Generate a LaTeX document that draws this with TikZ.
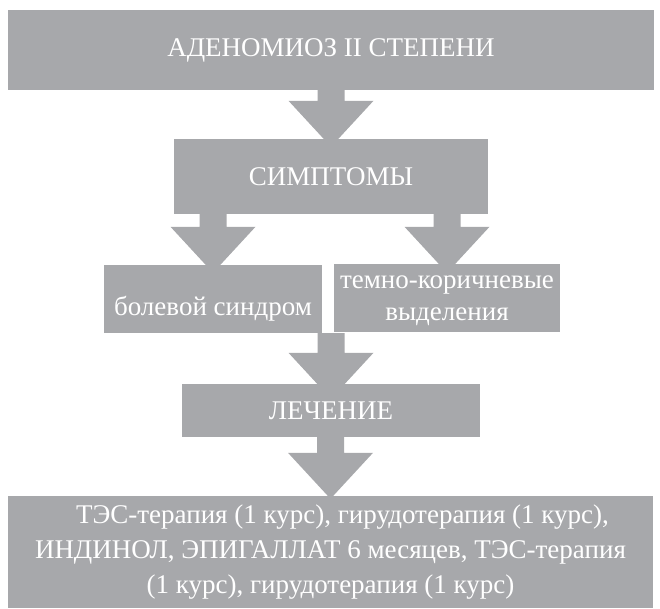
\documentclass[tikz,border=0pt]{standalone}
\usepackage{fontspec}
\setmainfont{Liberation Serif}
\usepackage{tikz}
\usetikzlibrary{calc,backgrounds}
\definecolor{boxgray}{HTML}{A7A8AB}

% wide block arrow: from #1 down to #2, head starts #3 above #2
\newcommand{\fatdown}[3]{%
  \fill[boxgray] let \p1=(#1.south), \p2=(#2.north) in
    (\x2-13.5pt,\y1) -- (\x2-13.5pt,\y2+#3) -- (\x2-42.5pt,\y2+#3)
    -- (\x2,\y2+#3-46pt) -- (\x2+42.5pt,\y2+#3) -- (\x2+13.5pt,\y2+#3)
    -- (\x2+13.5pt,\y1) -- cycle;}

\begin{document}
\begin{tikzpicture}[x=1pt,y=-1pt,
    box/.style={fill=boxgray,text=white,inner sep=0pt,font=\fontsize{27}{32}\selectfont}]
      \useasboundingbox (0,0) rectangle (660,608);
      \node[box,minimum width=646pt,minimum height=80pt](diag) at (331,50){АДЕНОМИОЗ II СТЕПЕНИ};
      \node[box,minimum width=314pt,minimum height=75pt](sympt) at (331,176.5){СИМПТОМЫ};
      \node[box,minimum width=218pt,minimum height=68pt,text height=32pt,text depth=0pt](pain) at (213,299){болевой синдром};
      \node[box,minimum width=226pt,minimum height=68pt](disch) at (447,298){\raisebox{-5pt}{\begin{tabular}{@{}c@{}}темно-коричневые\\выделения\end{tabular}}};
      \node[box,minimum width=298pt,minimum height=53pt](treat) at (331,410.5){ЛЕЧЕНИЕ};
      \node[box,minimum width=645pt,minimum height=112pt,align=center,
        font=\fontsize{27}{35}\selectfont](ther) at (330.5,552){\hspace*{24pt}ТЭС-терапия (1 курс), гирудотерапия (1 курс),\\
        ИНДИНОЛ, ЭПИГАЛЛАТ 6 месяцев, ТЭС-терапия\\
        (1 курс), гирудотерапия (1 курс)};
      \begin{scope}[on background layer]
        \fatdown{diag}{sympt}{38pt}
        \fatdown{sympt}{pain}{38pt}
        \fatdown{sympt}{disch}{37pt}
        \fatdown{pain}{treat}{31pt}
        \fatdown{treat}{ther}{43pt}
      \end{scope}
    \end{tikzpicture}
\end{document}
